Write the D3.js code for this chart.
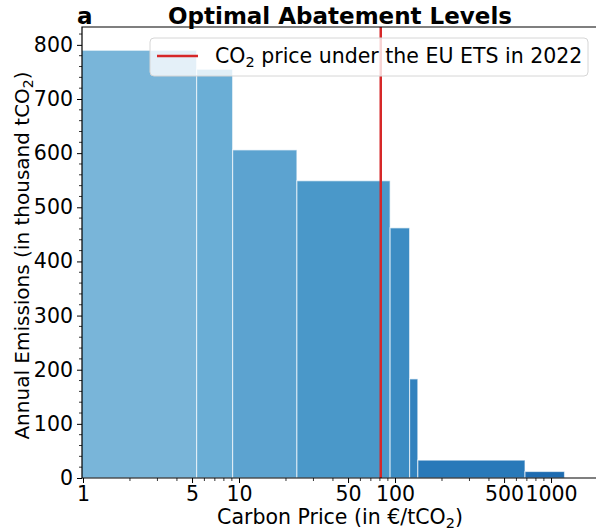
<!DOCTYPE html>
<html>
<head>
<meta charset="utf-8">
<script src="https://cdn.jsdelivr.net/npm/d3@7"></script>
<style>
  body { margin: 0; background: #fff; }
  text { font-family: "DejaVu Sans", sans-serif; fill: #000; }
</style>
</head>
<body>
<svg id="chart" width="596" height="532"></svg>
<script>
"use strict";

/*** data ***/

// each abatement step: price range (EUR/tCO2) and the emissions left
var barStart = [0.5, 5.35, 9.1, 23.5, 93, 124, 140, 681];
var barEnd = [5.35, 9.1, 23.5, 93, 124, 140, 681, 1220];
var emissions = [790, 755, 606, 549, 462, 183, 33, 12];
var barColors = ["#79b5d9", "#6aaed6", "#5ca3d0", "#4a98c9", "#3c8cc3", "#3282be", "#2879b9", "#1e6cb1"];

// EU ETS price 2022
var etsPrice = 81;

var xTicks = [1, 5, 10, 50, 100, 500, 1000];
var yTicks = [0, 100, 200, 300, 400, 500, 600, 700, 800];

/*** setup ***/

var mLeft = 82, mRight = 598, mTop = 27, mBottom = 478;
var svg = d3.select("#chart");

var x = d3.scaleLog().domain([0.9854, 2000]).range([mLeft, mRight]);
var y = d3.scaleLinear().domain([0, 833]).range([mBottom, mTop]);

// clip so the first bar doesn't spill left of the axis
svg.append("clipPath").attr("id", "plotclip")
  .append("rect").attr("x", mLeft).attr("y", mTop)
  .attr("width", mRight - mLeft).attr("height", mBottom - mTop);

var plot = svg.append("g").attr("clip-path", "url(#plotclip)");

//bars
plot.selectAll("rect.bar")
  .data(emissions)
  .enter()
  .append("rect")
  .attr("class", "bar")
  .attr("x", function(d, i) { return x(barStart[i]); })
  .attr("width", function(d, i) { return x(barEnd[i]) - x(barStart[i]); })
  .attr("y", function(d) { return y(d); })
  .attr("height", function(d) { return y(0) - y(d); })
  .attr("fill", function(d, i) { return barColors[i]; })
  .attr("stroke", "#fff")
  .attr("stroke-opacity", 0.6)
  .attr("stroke-width", 1.2);

//ETS price line
plot.append("line")
  .attr("x1", x(etsPrice)).attr("x2", x(etsPrice))
  .attr("y1", mTop).attr("y2", mBottom)
  .attr("stroke", "#d62728")
  .attr("stroke-width", 2.5);

/*** axes ***/

var minorX = [];
[1, 10, 100, 1000].forEach(function(dec) {
  for (var k = 2; k <= 9; k++) {
    var v = k * dec;
    if (v <= 2000 && xTicks.indexOf(v) < 0) { minorX.push(v); }
  }
});

var xAxis = svg.append("g").attr("transform", "translate(0," + mBottom + ")");
xAxis.call(d3.axisBottom(x).tickValues(xTicks).tickFormat(d3.format("d")).tickSize(5).tickPadding(3));
xAxis.selectAll(".domain").remove();
xAxis.selectAll(".tick text").attr("font-size", "20.5px").attr("font-family", "DejaVu Sans");
xAxis.selectAll(".tick line").attr("stroke-width", 1);

svg.append("g").selectAll("line")
  .data(minorX)
  .enter()
  .append("line")
  .attr("x1", function(d) { return x(d); })
  .attr("x2", function(d) { return x(d); })
  .attr("y1", mBottom).attr("y2", mBottom + 3)
  .attr("stroke", "#000").attr("stroke-width", 0.8);

var yAxis = svg.append("g").attr("transform", "translate(" + mLeft + ",0)");
yAxis.call(d3.axisLeft(y).tickValues(yTicks).tickSize(5).tickPadding(4));
yAxis.selectAll(".domain").remove();
yAxis.selectAll(".tick text").attr("font-size", "20.5px").attr("font-family", "DejaVu Sans");

var minorY = d3.range(0, 833, 20).filter(function(v) { return v % 100 != 0; });
svg.append("g").selectAll("line")
  .data(minorY)
  .enter()
  .append("line")
  .attr("x1", mLeft - 3).attr("x2", mLeft)
  .attr("y1", function(d) { return y(d); })
  .attr("y2", function(d) { return y(d); })
  .attr("stroke", "#000").attr("stroke-width", 0.8);

//spines: left, top, bottom (right one falls off the picture)
svg.append("path")
  .attr("d", "M" + mRight + "," + mTop + "H" + mLeft + "V" + mBottom + "H" + mRight)
  .attr("fill", "none")
  .attr("stroke", "#000")
  .attr("stroke-width", 1.2);

/*** legend ***/

var lg = svg.append("g");
lg.append("rect")
  .attr("x", 150).attr("y", 38).attr("width", 438).attr("height", 38)
  .attr("rx", 4)
  .attr("fill", "#fff").attr("fill-opacity", 0.8)
  .attr("stroke", "#d6d6d6");
lg.append("line")
  .attr("x1", 157).attr("x2", 198).attr("y1", 56).attr("y2", 56)
  .attr("stroke", "#d62728").attr("stroke-width", 2.5);
var lt = lg.append("text").attr("x", 215).attr("y", 63).attr("font-size", "20.5px");
lt.append("tspan").text("CO");
lt.append("tspan").text("2").attr("font-size", "14.5px").attr("dy", 4);
lt.append("tspan").text(" price under the EU ETS in 2022").attr("dy", -4);

/*** titles and labels ***/

svg.append("text")
  .attr("x", (mLeft + mRight) / 2).attr("y", 24)
  .attr("text-anchor", "middle")
  .attr("font-size", "23px").attr("font-weight", "bold")
  .text("Optimal Abatement Levels");

svg.append("text")
  .attr("x", 77).attr("y", 24)
  .attr("font-size", "23px").attr("font-weight", "bold")
  .text("a");

var xl = svg.append("text")
  .attr("x", (mLeft + mRight) / 2).attr("y", 524)
  .attr("text-anchor", "middle")
  .attr("font-size", "20.5px");
xl.append("tspan").text("Carbon Price (in €/tCO");
xl.append("tspan").text("2").attr("font-size", "14.5px").attr("dy", 4);
xl.append("tspan").text(")").attr("dy", -4);

var yl = svg.append("text")
  .attr("transform", "translate(29," + ((mTop + mBottom) / 2 + 3) + ") rotate(-90)")
  .attr("text-anchor", "middle")
  .attr("font-size", "20px");
yl.append("tspan").text("Annual Emissions (in thousand tCO");
yl.append("tspan").text("2").attr("font-size", "14px").attr("dy", 4);
yl.append("tspan").text(")").attr("dy", -4);
</script>
</body>
</html>
